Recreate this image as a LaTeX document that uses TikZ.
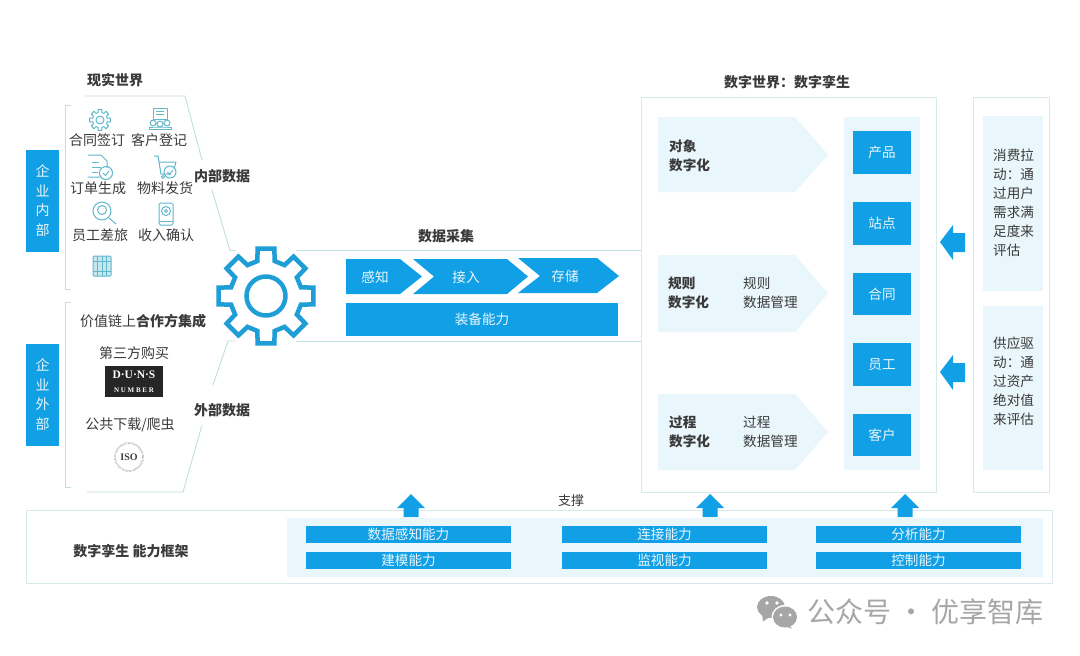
\documentclass[tikz,border=0pt]{standalone}
\usepackage{fontspec}
\setmainfont{Noto Sans CJK SC}
\newfontfamily\logoserif{Liberation Serif}
\usetikzlibrary{arrows.meta}
\definecolor{mainblue}{HTML}{11A0E6}
\definecolor{palefill}{HTML}{E9F6FB}
\definecolor{frameline}{HTML}{D8E9EC}
\definecolor{darkline}{HTML}{C2DEE2}
\definecolor{iconteal}{HTML}{5FB8CC}
\definecolor{geartone}{HTML}{1E9DD6}
\definecolor{ink}{HTML}{3A3A3A}
\definecolor{wm}{HTML}{A6A6A6}
\tikzset{
  frame/.style={draw=frameline,line width=0.9pt},
  bracket/.style={draw=darkline,line width=0.9pt},
  bluebox/.style={fill=mainblue,draw=none},
  palebox/.style={fill=palefill,draw=none},
  label/.style={text=ink,font=\fontsize{14}{19}\selectfont,inner sep=0pt,align=center},
  head/.style={text=ink,font=\fontsize{14}{19}\selectfont\bfseries,inner sep=0pt,align=center},
  whitetext/.style={text=white,font=\fontsize{13.6}{19}\selectfont,inner sep=0pt,align=center},
  paletext/.style={text=palefill,font=\fontsize{13.6}{19}\selectfont,inner sep=0pt,align=center},
  icon/.style={draw=iconteal,line width=1pt,fill=none},
  bararrow/.style={fill=mainblue,draw=none},
}
\begin{document}
\begin{tikzpicture}[x=1pt,y=-1pt,line join=round]
\useasboundingbox (0,0) rectangle (1080,656);
\fill[white] (0,0) rectangle (1080,656);

% ---- left brackets and data-flow frame
\draw[bracket] (71,105) -- (65,105) -- (65,289) -- (71,289);
\draw[bracket] (71,302) -- (65,302) -- (65,487) -- (71,487);
\draw[bracket] (85,96) -- (185,96) -- (202,160);
\draw[bracket] (212,190) -- (230,250.5) -- (247,250.5);
\draw[bracket] (288,250.5) -- (641,250.5);
\draw[bracket] (87,492) -- (183,492) -- (202,425);
\draw[bracket] (213,385) -- (228,341) -- (246,341);
\draw[bracket] (288,341) -- (641,341);

% ---- side tabs
\node[bluebox,minimum width=33pt,minimum height=102pt,inner sep=0pt] (inner) at (42.5,200.5) {};
\node[paletext,font=\fontsize{14}{19.5}\selectfont] at (inner) {企\\业\\内\\部};
\node[bluebox,minimum width=33pt,minimum height=102pt,inner sep=0pt] (outer) at (42.5,394.5) {};
\node[paletext,font=\fontsize{14}{19.5}\selectfont] at (outer) {企\\业\\外\\部};

% ---- headers
\node[head] (real) at (115,80) {现实世界};
\node[head] (digital) at (787,82) {数字世界：数字孪生};
\node[head] (collect) at (446,236) {数据采集};
\node[head] (indata) at (222,176) {内部数据};
\node[head] (outdata) at (222,410) {外部数据};

% ---- small icons
\begin{scope}[shift={(100,120)}]
  \draw[icon] \foreach \a in {0,45,...,315} { (\a-11:10.5) -- (\a+11:10.5) -- (\a+22.5-8:7.6) -- (\a+22.5+8:7.6) -- (\a+45-11:10.5) };
  \draw[icon] (0,0) circle[radius=4pt];
\end{scope}
\begin{scope}[shift={(160,118)}]
  \draw[icon] (-7,-10) rectangle (7,1);
  \draw[icon] (-4,-7) -- (4,-7) (-4,-4) -- (4,-4);
  \draw[icon] (-7,5) circle[radius=3pt] (7,5) circle[radius=3pt] (0,6) circle[radius=3pt];
  \draw[icon] (-11,11) -- (-11,9) -- (-4,9) -- (4,9) -- (11,9) -- (11,11) -- cycle;
\end{scope}
\begin{scope}[shift={(98,166)}]
  \draw[icon] (-10,-11) -- (3,-11) -- (9,-5) -- (9,2) (2,11) -- (-10,11) -- cycle;
  \draw[icon] (-6,-4) -- (1,-4) (-6,1) -- (3,1) (-6,6) -- (0,6);
  \draw[icon] (8,7) circle[radius=6.5pt];
  \draw[icon] (5,7) -- (7.5,9.5) -- (11,5);
\end{scope}
\begin{scope}[shift={(165,167)}]
  \draw[icon] (-11,-11) -- (-7,-11) -- (-4,7) -- (6,7);
  \draw[icon] (-6,-5) -- (11,-5) -- (9,2);
  \draw[icon] (-2,10) circle[radius=1.5pt];
  \draw[icon] (5,5) circle[radius=6pt];
  \draw[icon] (2.5,5) -- (4.5,7.5) -- (8,3);
\end{scope}
\begin{scope}[shift={(102,211)}]
  \draw[icon] (0,0) circle[radius=9pt];
  \draw[icon] (0,-1) circle[radius=4.5pt];
  \draw[icon] (7,7) -- (14,13);
\end{scope}
\begin{scope}[shift={(166,214)}]
  \draw[icon,rounded corners=1.5pt] (-7,-11) rectangle (7,11);
  \draw[icon] (-7,7) -- (7,7);
  \draw[icon] (0,-3) circle[radius=4.5pt];
  \draw[icon] (0,-3) circle[radius=1.5pt];
\end{scope}
\begin{scope}[shift={(102,266)}]
  \draw[icon,fill=iconteal!35,rounded corners=1pt] (-9,-10) rectangle (9,10);
  \foreach \x in {-4.5,0,4.5} \draw[icon] (\x,-10) -- (\x,10);
  \draw[icon] (-9,-5) -- (9,-5) (-9,5) -- (9,5);
\end{scope}

% ---- internal data labels
\node[label] (t1) at (97,140) {合同签订};
\node[label] (t2) at (159,140) {客户登记};
\node[label] (t3) at (98,188) {订单生成};
\node[label] (t4) at (165,188) {物料发货};
\node[label] (t5) at (100,235) {员工差旅};
\node[label] (t6) at (166,235) {收入确认};

% ---- external data
\node[label] (e1) at (143,321) {价值链上{\bfseries 合作方集成}};
\node[label] (e2) at (134,353) {第三方购买};
\node[fill=black!85,text=white,minimum width=58pt,minimum height=31pt,inner sep=0pt,align=center,font=\logoserif\fontsize{11.5}{13}\selectfont\bfseries] (duns) at (134,381.5) {D·U·N·S\\[1pt]{\fontsize{7}{8}\selectfont N U M B E R}};
\node[label] (e3) at (130,425) {公共下载/爬虫};
\node[draw=black!55,double=white,double distance=0.8pt,densely dotted,circle,minimum size=28pt,inner sep=0pt,text=black!75,font=\logoserif\fontsize{10}{10}\selectfont\bfseries] (iso) at (129,457) {ISO};

% ---- gear
\begin{scope}[shift={(266,296)}]
  \draw[draw=white,line width=9pt,fill=white] (0,0) circle[radius=50pt];
  \draw[draw=geartone,line width=4.5pt,fill=white,line join=miter]
    (-10:48)
    \foreach \a in {0,45,...,315} { -- (\a-10:48) -- (\a+10:48) -- (\a+14:36) -- (\a+31:36) } -- cycle;
  \draw[draw=geartone,line width=4.5pt,fill=white] (0,0) circle[radius=19.5pt];
\end{scope}

% ---- process chevrons
\path[bluebox] (346,259) -- (400,259) -- (422,276.5) -- (400,294) -- (346,294) -- cycle;
\path[bluebox] (413,259) -- (507,259) -- (528,276.5) -- (507,294) -- (413,294) -- (434,276.5) -- cycle;
\path[bluebox] (518,258) -- (597,258) -- (619,276) -- (597,293) -- (518,293) -- (540,276) -- cycle;
\node[paletext] (p1) at (375,277) {感知};
\node[paletext] (p2) at (466,277) {接入};
\node[paletext] (p3) at (565,276) {存储};
\node[bluebox,minimum width=272pt,minimum height=33pt,inner sep=0pt] (equip) at (482,319.5) {};
\node[paletext] at (equip) {装备能力};

% ---- digital world
\draw[frame] (641,97) rectangle (936,492);
\draw[frame] (973,97) rectangle (1049,492);
\path[palebox] (658,117) -- (795,117) -- (828,154.5) -- (795,192) -- (658,192) -- cycle;
\path[palebox] (658,255) -- (795,255) -- (828,293.5) -- (795,332) -- (658,332) -- cycle;
\path[palebox] (658,394) -- (795,394) -- (828,432) -- (795,470) -- (658,470) -- cycle;
\node[label,font=\fontsize{13.6}{19.5}\selectfont\bfseries,align=left,anchor=west] (d1) at (669,156) {对象\\数字化};
\node[label,font=\fontsize{13.6}{19}\selectfont\bfseries,align=left,anchor=west] (d2) at (668,293) {规则\\数字化};
\node[label,font=\fontsize{13.6}{19}\selectfont,align=left,anchor=west] (d3) at (743,293) {规则\\数据管理};
\node[label,font=\fontsize{13.6}{19}\selectfont\bfseries,align=left,anchor=west] (d4) at (669,432) {过程\\数字化};
\node[label,font=\fontsize{13.6}{19}\selectfont,align=left,anchor=west] (d5) at (743,432) {过程\\数据管理};

\path[palebox] (844,117) rectangle (920,470);
\foreach \n/\yy/\t in {a/152.5/产品,b/223.5/站点,c/294/合同,d/364.5/员工,e/435/客户}{
  \node[bluebox,minimum width=58pt,minimum height=42.5pt,inner sep=0pt,paletext] (sq\n) at (882,\yy) {\t};
}

% ---- right column
\path[palebox] (983,116) rectangle (1043,291);
\path[palebox] (983,306) rectangle (1043,470);
\node[label,font=\fontsize{13.6}{19}\selectfont,align=left,anchor=north west] (r1) at (993,149) {消费拉\\动：通\\过用户\\需求满\\足度来\\评估};
\node[label,font=\fontsize{13.6}{19}\selectfont,align=left,anchor=north west] (r2) at (993,337) {供应驱\\动：通\\过资产\\绝对值\\来评估};
\path[bararrow] (940,242) -- (953,225) -- (953,233) -- (965,233) -- (965,252) -- (953,252) -- (953,260) -- cycle;
\path[bararrow] (940,372) -- (953,355) -- (953,363) -- (965,363) -- (965,382) -- (953,382) -- (953,390) -- cycle;

% ---- bottom framework
\draw[frame] (26,510) rectangle (1052,583);
\path[palebox] (287,518) rectangle (1043,577);
\node[head] (fw) at (131,551) {数字孪生 能力框架};
\node[label,font=\fontsize{13}{19}\selectfont] (sup) at (571,501) {支撑};
\foreach \n/\xx/\ta/\tb in {f/408.5/数据感知能力/建模能力,g/664.5/连接能力/监视能力,h/918.5/分析能力/控制能力}{
  \node[bluebox,minimum width=205pt,minimum height=17pt,inner sep=0pt,paletext] (ba\n) at (\xx,534.5) {\ta};
  \node[bluebox,minimum width=205pt,minimum height=17pt,inner sep=0pt,paletext] (bb\n) at (\xx,560.5) {\tb};
}
\foreach \xx in {411,710,905}{
  \path[bararrow] (\xx,494) -- (\xx+14,508) -- (\xx+7.5,508) -- (\xx+7.5,517) -- (\xx-7.5,517) -- (\xx-7.5,508) -- (\xx-14,508) -- cycle;
}

% ---- watermark
\fill[wm] (771,607) ellipse[x radius=14pt,y radius=11pt];
\fill[wm] (762,613) -- (763,621.5) -- (771,616) -- cycle;
\fill[white] (785,617) ellipse[x radius=13.5pt,y radius=12pt];
\fill[wm] (785,617) ellipse[x radius=12pt,y radius=10.5pt];
\fill[wm] (788,624) -- (792,628.5) -- (783,626) -- cycle;
\fill[white] (767,603) circle[radius=1.8pt] (777,603) circle[radius=1.8pt] (781,615) circle[radius=1.6pt] (790,615) circle[radius=1.6pt];
\node[text=wm,font=\fontsize{28}{32}\selectfont,inner sep=0pt,anchor=west] (wmtext) at (807,612) {公众号 · 优享智库};
\end{tikzpicture}
\end{document}
